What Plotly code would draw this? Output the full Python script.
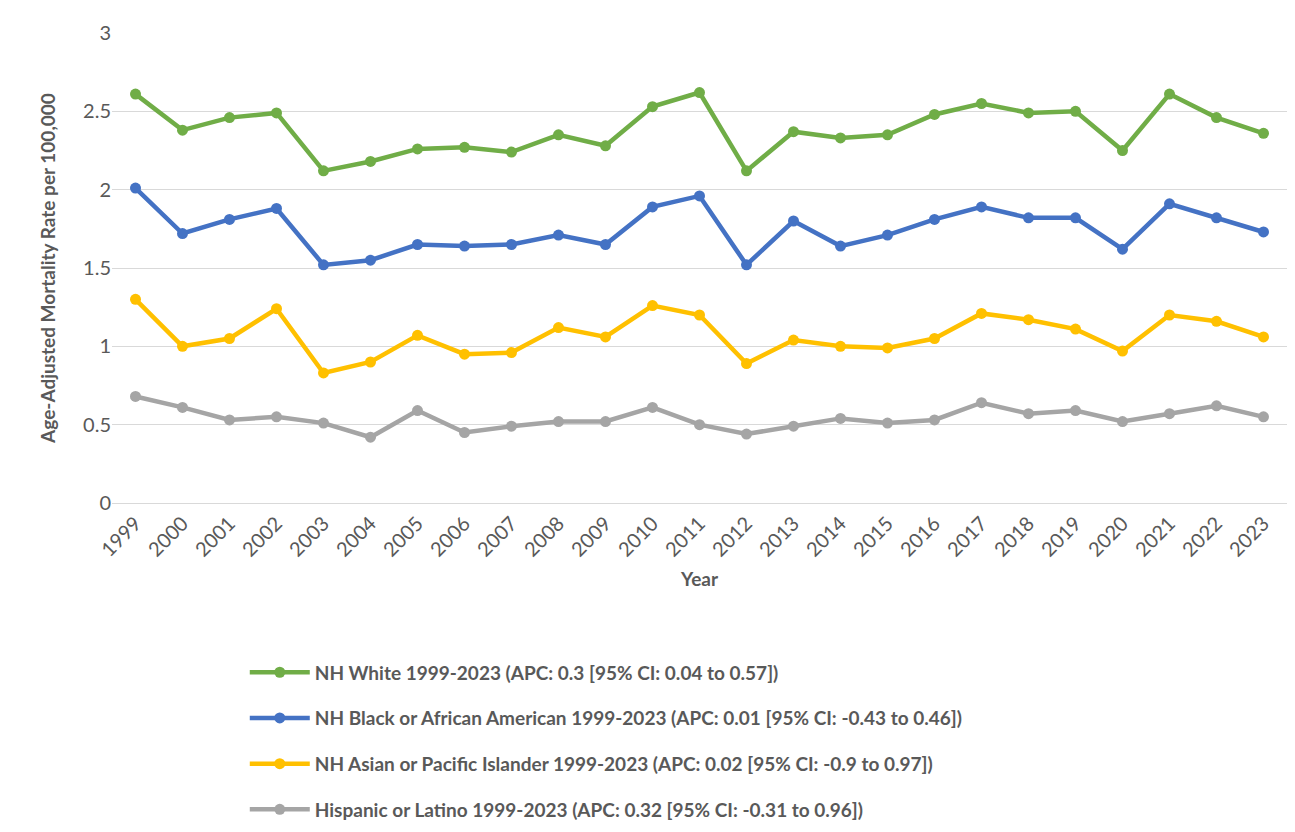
import plotly.graph_objects as go

years = [str(y) for y in range(1999, 2024)]
white = [2.61, 2.38, 2.46, 2.49, 2.12, 2.18, 2.26, 2.27, 2.24, 2.35, 2.28, 2.53, 2.62, 2.12, 2.37, 2.33, 2.35, 2.48, 2.55, 2.49, 2.50, 2.25, 2.61, 2.46, 2.36]
black = [2.01, 1.72, 1.81, 1.88, 1.52, 1.55, 1.65, 1.64, 1.65, 1.71, 1.65, 1.89, 1.96, 1.52, 1.80, 1.64, 1.71, 1.81, 1.89, 1.82, 1.82, 1.62, 1.91, 1.82, 1.73]
asian = [1.30, 1.00, 1.05, 1.24, 0.83, 0.90, 1.07, 0.95, 0.96, 1.12, 1.06, 1.26, 1.20, 0.89, 1.04, 1.00, 0.99, 1.05, 1.21, 1.17, 1.11, 0.97, 1.20, 1.16, 1.06]
hisp = [0.68, 0.61, 0.53, 0.55, 0.51, 0.42, 0.59, 0.45, 0.49, 0.52, 0.52, 0.61, 0.50, 0.44, 0.49, 0.54, 0.51, 0.53, 0.64, 0.57, 0.59, 0.52, 0.57, 0.62, 0.55]

series = [
    ("NH White 1999-2023 (APC: 0.3 [95% CI: 0.04 to 0.57])", white, "#70AD47"),
    ("NH Black or African American 1999-2023 (APC: 0.01 [95% CI: -0.43 to 0.46])", black, "#4472C4"),
    ("NH Asian or Pacific Islander 1999-2023 (APC: 0.02 [95% CI: -0.9 to 0.97])", asian, "#FFC000"),
    ("Hispanic or Latino 1999-2023 (APC: 0.32 [95% CI: -0.31 to 0.96])", hisp, "#A5A5A5"),
]

fig = go.Figure()
for i, (name, vals, col) in enumerate(series):
    fig.add_trace(go.Scatter(x=years, y=vals, name="<b>" + name + "</b>", legendgroup=f"g{i}",
                             mode="lines+markers",
                             line=dict(color=col, width=4.5), marker=dict(size=11, color=col)))

font = "Lato, Open Sans, sans-serif"
fig.update_layout(
    width=1295, height=832, paper_bgcolor="white", plot_bgcolor="white",
    margin=dict(l=104, r=16, t=25, b=323),
    font=dict(family=font, color="#595959", size=20),
    xaxis=dict(type="category", range=[-0.5, 24.5], tickangle=-45, showgrid=False, showline=True,
               linecolor="#D9D9D9", linewidth=1, ticks="", automargin=False,
               tickfont=dict(size=20),
               title=dict(text="<b>Year</b>", font=dict(size=19, color="#595959"), standoff=12)),
    yaxis=dict(range=[0, 3], dtick=0.5, showgrid=True, gridcolor="#D9D9D9", zeroline=False,
               showline=False, tickformat="~g", automargin=False, tickfont=dict(size=20),
               title=dict(text="<b>Age-Adjusted Mortality Rate per 100,000</b>", font=dict(size=19, color="#595959"), standoff=22)),
    legend=dict(orientation="v", x=0.113, xanchor="left", y=-0.32, yanchor="top",
                font=dict(size=19, color="#595959"), tracegroupgap=18,
                itemwidth=60),
)
fig.write_html("out.html")
